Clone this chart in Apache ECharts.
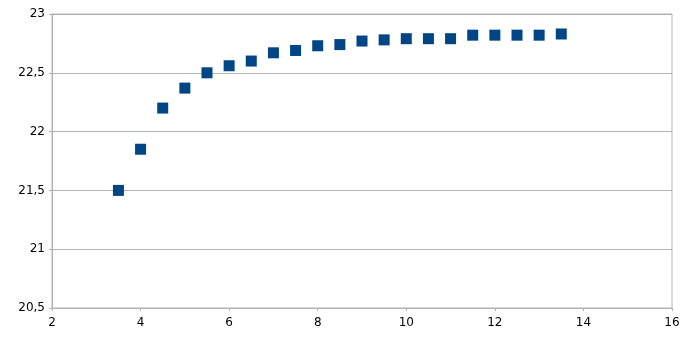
<!DOCTYPE html>
<html>
<head>
<meta charset="utf-8">
<script src="https://cdn.jsdelivr.net/npm/echarts@6/dist/echarts.min.js"></script>
<style>html,body{margin:0;padding:0;background:#fff}#c{width:694px;height:339px}</style>
</head>
<body>
<div id="c"></div>
<script>
const xValues = [3.5, 4, 4.5, 5, 5.5, 6, 6.5, 7, 7.5, 8, 8.5, 9, 9.5, 10, 10.5, 11, 11.5, 12, 12.5, 13, 13.5];
const yValues = [21.5, 21.85, 22.2, 22.37, 22.5, 22.56, 22.6, 22.67, 22.69, 22.73, 22.74, 22.77, 22.78, 22.79, 22.79, 22.79, 22.82, 22.82, 22.82, 22.82, 22.83];

const chart = echarts.init(document.getElementById('c'), null, {renderer: 'canvas'});
const fmt = v => String(v).replace('.', ',');
const lineColor = '#b3b3b3';
chart.setOption({
  animation: false,
  backgroundColor: '#fff',
  grid: {left: 52, right: 22, top: 14, bottom: 31, show: true, borderColor: lineColor, borderWidth: 1},
  xAxis: {
    type: 'value', min: 2, max: 16, interval: 2,
    axisLine: {show: true, lineStyle: {color: lineColor}},
    axisTick: {show: true, length: 3, lineStyle: {color: lineColor}},
    splitLine: {show: false},
    axisLabel: {color: '#000', fontFamily: 'DejaVu Sans', fontSize: 12, margin: 9, formatter: fmt}
  },
  yAxis: {
    type: 'value', min: 20.5, max: 23, interval: 0.5,
    axisLine: {show: true, lineStyle: {color: lineColor}},
    axisTick: {show: true, length: 3, lineStyle: {color: lineColor}},
    splitLine: {show: true, lineStyle: {color: lineColor}},
    axisLabel: {color: '#000', fontFamily: 'DejaVu Sans', fontSize: 12, margin: 7, formatter: fmt}
  },
  series: [{
    type: 'scatter',
    symbol: 'rect',
    symbolSize: 11,
    itemStyle: {color: '#004586', opacity: 1},
    data: xValues.map((x, i) => [x, yValues[i]])
  }]
});
</script>
</body>
</html>
